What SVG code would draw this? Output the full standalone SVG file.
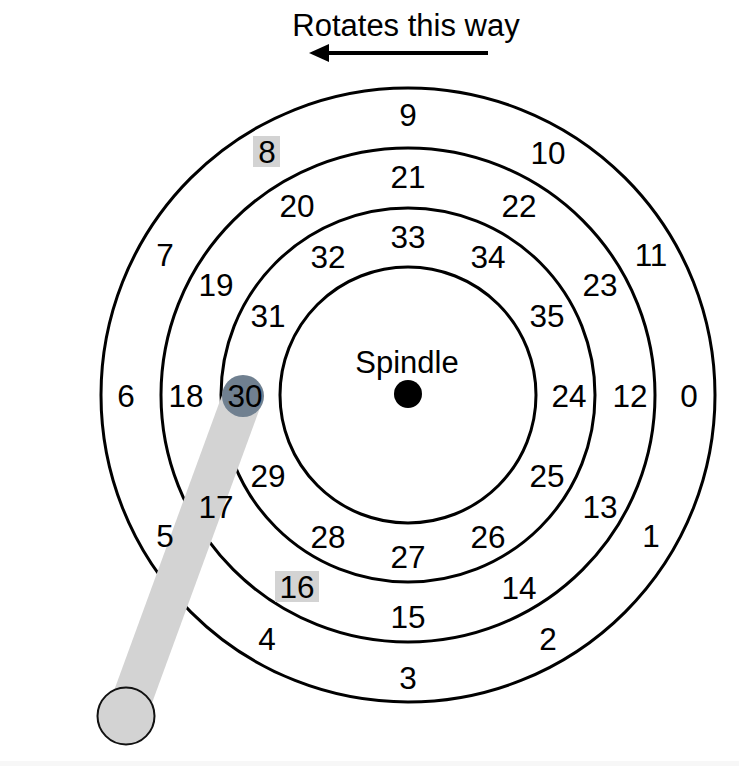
<svg xmlns="http://www.w3.org/2000/svg" width="739" height="766" viewBox="0 0 739 766">
<style>
.ring{fill:none;stroke:#000;stroke-width:3}
.lbl{font-family:"Liberation Sans",Arial,Helvetica,sans-serif;font-size:31.5px;fill:#000;text-anchor:middle}
.ttl{font-family:"Liberation Sans",Arial,Helvetica,sans-serif;font-size:31px;fill:#000;text-anchor:middle}
.hl{fill:#d3d3d3}
</style>
<rect x="0" y="0" width="739" height="766" fill="#fff"/>
<rect x="0" y="761" width="739" height="5" fill="#f7f7f7"/>
<g id="platter">
<circle class="ring" cx="408" cy="395" r="307"/>
<circle class="ring" cx="408" cy="395" r="247"/>
<circle class="ring" cx="408" cy="395" r="187"/>
<circle class="ring" cx="408" cy="395" r="128"/>
</g>
<g id="spindle">
<circle cx="408" cy="394" r="14" fill="#000"/>
<text class="ttl" x="407" y="373">Spindle</text>
</g>
<g id="arm">
<line x1="126" y1="716" x2="243" y2="396" stroke="#d3d3d3" stroke-width="40"/>
<circle cx="126" cy="716" r="28.5" fill="#d3d3d3" stroke="#111" stroke-width="2"/>
<circle cx="243" cy="396" r="21" fill="#708090"/>
</g>
<g id="highlights">
<rect class="hl" x="253" y="136" width="27" height="31"/>
<rect class="hl" x="275" y="571" width="44" height="31"/>
</g>
<g id="track0">
<text class="lbl" x="689" y="407">0</text>
<text class="lbl" x="651" y="547">1</text>
<text class="lbl" x="548" y="650">2</text>
<text class="lbl" x="408" y="689">3</text>
<text class="lbl" x="267" y="650">4</text>
<text class="lbl" x="165" y="547">5</text>
<text class="lbl" x="126" y="407">6</text>
<text class="lbl" x="165" y="266">7</text>
<text class="lbl" x="267" y="163">8</text>
<text class="lbl" x="408" y="126">9</text>
<text class="lbl" x="548" y="164">10</text>
<text class="lbl" x="651" y="266">11</text>
</g>
<g id="track1">
<text class="lbl" x="630" y="407">12</text>
<text class="lbl" x="600" y="518">13</text>
<text class="lbl" x="519" y="599">14</text>
<text class="lbl" x="408" y="628">15</text>
<text class="lbl" x="297" y="598">16</text>
<text class="lbl" x="216" y="518">17</text>
<text class="lbl" x="186" y="407">18</text>
<text class="lbl" x="216" y="296">19</text>
<text class="lbl" x="297" y="217">20</text>
<text class="lbl" x="408" y="188">21</text>
<text class="lbl" x="519" y="217">22</text>
<text class="lbl" x="600" y="296">23</text>
</g>
<g id="track2">
<text class="lbl" x="569" y="407">24</text>
<text class="lbl" x="547" y="487">25</text>
<text class="lbl" x="488" y="548">26</text>
<text class="lbl" x="408" y="568">27</text>
<text class="lbl" x="328" y="548">28</text>
<text class="lbl" x="268" y="487">29</text>
<text class="lbl" x="245" y="407">30</text>
<text class="lbl" x="268" y="327">31</text>
<text class="lbl" x="328" y="268">32</text>
<text class="lbl" x="408" y="248">33</text>
<text class="lbl" x="488" y="268">34</text>
<text class="lbl" x="547" y="327">35</text>
</g>
<g id="rotation-label">
<text class="ttl" x="406" y="36">Rotates this way</text>
</g>
<g id="connectors">
<line x1="488" y1="53" x2="326" y2="53" stroke="#000" stroke-width="4"/>
<polygon points="309,53 329,44 329,62" fill="#000"/>
</g>
</svg>
